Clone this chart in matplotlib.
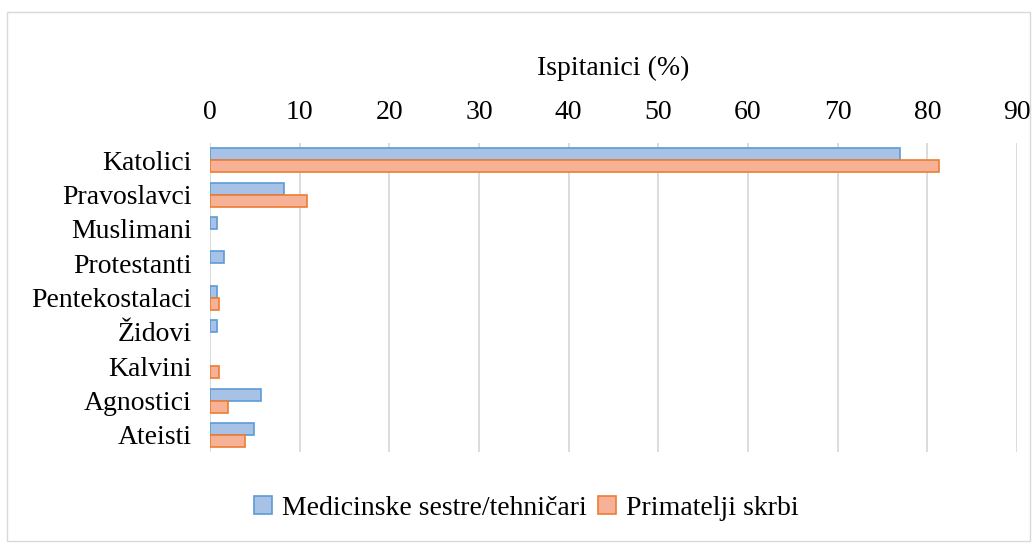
import numpy as np
import matplotlib.pyplot as plt
import matplotlib.patches as patches

categories = ['Katolici', 'Pravoslavci', 'Muslimani', 'Protestanti', 'Pentekostalaci',
              'Židovi', 'Kalvini', 'Agnostici', 'Ateisti']
nurses = [76.9, 8.2, 0.8, 1.6, 0.8, 0.8, 0.0, 5.7, 4.9]
care = [81.3, 10.8, 0.0, 0.0, 1.0, 0.0, 1.0, 2.0, 3.9]
series_labels = ['Medicinske sestre/tehničari', 'Primatelji skrbi']
xticks = [0, 10, 20, 30, 40, 50, 60, 70, 80, 90]

plt.rcParams['font.family'] = ['Liberation Serif', 'DejaVu Serif']

fig = plt.figure(figsize=(10.35, 5.44), dpi=100)
ax = fig.add_axes([0.2029, 0.169, 0.7797, 0.568])

y = np.arange(len(categories))
h = 0.35
# no outline for zero-valued bars
lw_n = [1.2 if v > 0 else 0 for v in nurses]
lw_c = [1.2 if v > 0 else 0 for v in care]
ax.barh(y - h / 2, nurses, height=h, color='#a7c2e6', edgecolor='#5b9bd5', linewidth=lw_n,
        label=series_labels[0], zorder=3)
ax.barh(y + h / 2, care, height=h, color='#f6b196', edgecolor='#ed7d31', linewidth=lw_c,
        label=series_labels[1], zorder=3)

ax.set_ylim(len(categories) - 0.5, -0.5)
ax.set_xlim(0, 90)
ax.set_yticks(y)
ax.set_yticklabels(categories, fontsize=20)
ax.set_xticks(xticks)
ax.xaxis.tick_top()
ax.xaxis.set_label_position('top')
ax.tick_params(axis='x', labelsize=20, length=0, pad=13)
ax.tick_params(axis='y', length=0, pad=13)
ax.set_xlabel('Ispitanici (%)', fontsize=20, labelpad=18)
ax.grid(axis='x', color='#d9d9d9', linewidth=1.3, zorder=0)
for s in ax.spines.values():
    s.set_visible(False)

fig.legend(loc='center', bbox_to_anchor=(0.509, 0.066), ncol=2, frameon=False, fontsize=20,
           handlelength=0.65, handleheight=0.65, handletextpad=0.36, columnspacing=0.4)

fig.patches.append(patches.Rectangle((0.007, 0.006), 0.988, 0.972, transform=fig.transFigure,
                                     fill=False, edgecolor='#d9d9d9', linewidth=1))

fig.savefig('out.png', dpi=100)
